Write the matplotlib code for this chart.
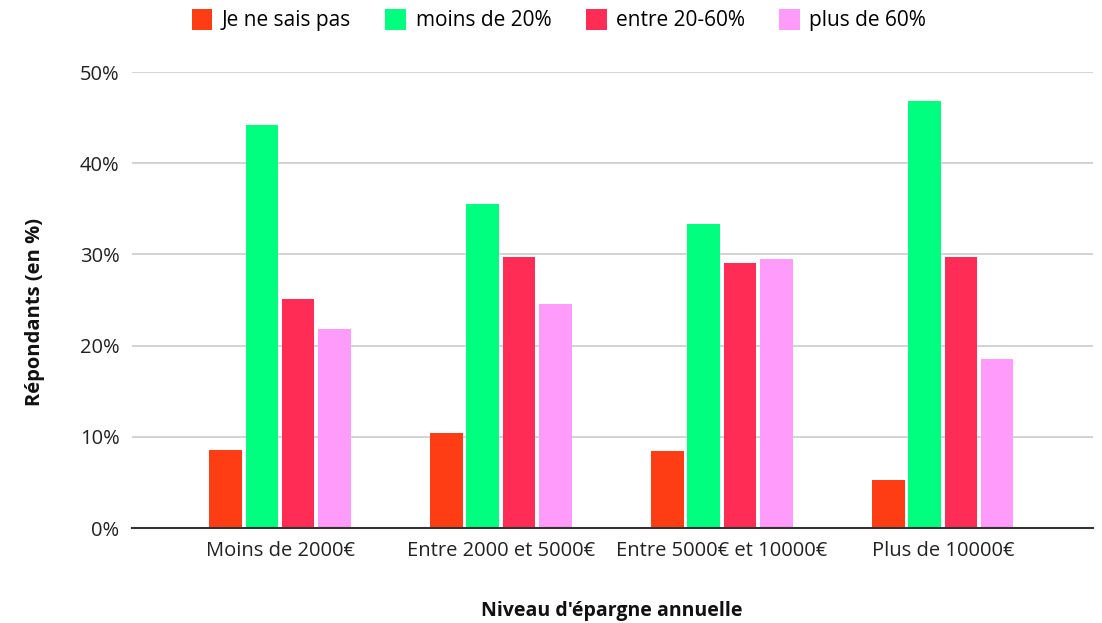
import numpy as np
import matplotlib
matplotlib.use("Agg")
import matplotlib.pyplot as plt
from matplotlib.ticker import PercentFormatter

plt.rcParams['font.family'] = ['Open Sans', 'DejaVu Sans']

categories = ['Moins de 2000€', 'Entre 2000 et 5000€', 'Entre 5000€ et 10000€', 'Plus de 10000€']
series_names = ['Je ne sais pas', 'moins de 20%', 'entre 20-60%', 'plus de 60%']
je_ne_sais_pas = [8.5, 10.4, 8.4, 5.3]
moins_20 = [44.2, 35.5, 33.3, 46.8]
entre_20_60 = [25.1, 29.7, 29.1, 29.7]
plus_60 = [21.8, 24.6, 29.5, 18.5]
colors = ['#FF3D14', '#00FF7F', '#FF2D55', '#FF9BFB']

series = [je_ne_sais_pas, moins_20, entre_20_60, plus_60]

fig = plt.figure(figsize=(11.02, 6.23), dpi=100)
ax = fig.add_axes([132 / 1102, 1 - 528 / 623, (1093 - 132) / 1102, (528 - 72) / 623])

x = np.arange(len(categories))
step = 0.164
width = 0.148
for i, (vals, name, c) in enumerate(zip(series, series_names, colors)):
    ax.bar(x + (i - 1.5) * step, vals, width, color=c, label=name, zorder=3)

ax.set_xlim(-0.67, 3.68)
ax.set_ylim(0, 50)
ax.set_yticks([0, 10, 20, 30, 40, 50])
ax.yaxis.set_major_formatter(PercentFormatter(decimals=0))
ax.set_xticks(x)
ax.set_xticklabels(categories)
ax.tick_params(axis='both', length=0, labelsize=14.5, colors='#222222')
ax.tick_params(axis='x', pad=9)
ax.tick_params(axis='y', pad=9)
ax.grid(axis='y', color='#cccccc', linewidth=1.2, zorder=0)
for s in ['top', 'right', 'left']:
    ax.spines[s].set_visible(False)
ax.spines['bottom'].set_color('#333333')
ax.spines['bottom'].set_linewidth(1.5)
ax.spines['bottom'].set_zorder(4)

fig.text(35 / 1102, 1 - 312 / 623, 'Répondants (en %)', rotation=90, ha='center', va='center',
         fontsize=14.5, fontweight='bold', color='#111111')
fig.text(612 / 1102, 1 - 611 / 623, "Niveau d'épargne annuelle", ha='center', va='center',
         fontsize=14, fontweight='bold', color='#111111')

fig.legend(loc='center', bbox_to_anchor=(559 / 1102, 1 - 20 / 623), ncol=4, frameon=False,
           fontsize=15, handlelength=1.0, handleheight=1.2, handletextpad=0.45, columnspacing=1.65)

fig.savefig('out.png', dpi=100)
